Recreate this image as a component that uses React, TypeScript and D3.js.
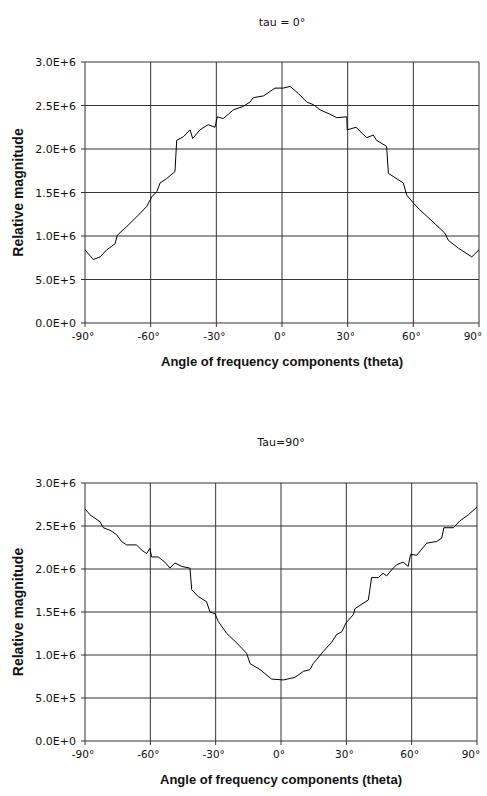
import { useEffect, useRef } from "react";
import * as d3 from "d3";

// tau = 0 curve (angle in degrees, magnitude)
const tau0Angles = [-90, -86.2, -83.1, -80.1, -76.3, -75.2, -70.9, -66.4, -61.8, -59.5, -57.2, -55.7, -52.7, -48.9, -48.1, -45.1, -42, -40.8, -37.5, -33.7, -30.6, -29.6, -26.8, -22.2, -17.7, -14.6, -13.1, -8.5, -3.2, 0.6, 3.7, 7.4, 11.3, 14.3, 17.4, 21.9, 25, 29.6, 29.8, 33.8, 38.7, 41.7, 43.2, 47.8, 48.6, 55.4, 57, 60, 63, 69.1, 74.5, 76, 80.6, 86.7, 90];
const tau0Values = [0.84e6, 0.73e6, 0.76e6, 0.84e6, 0.91e6, 1.01e6, 1.11e6, 1.22e6, 1.34e6, 1.45e6, 1.51e6, 1.61e6, 1.66e6, 1.74e6, 2.1e6, 2.14e6, 2.22e6, 2.12e6, 2.22e6, 2.28e6, 2.25e6, 2.37e6, 2.35e6, 2.45e6, 2.49e6, 2.54e6, 2.59e6, 2.61e6, 2.7e6, 2.7e6, 2.72e6, 2.64e6, 2.54e6, 2.51e6, 2.45e6, 2.4e6, 2.36e6, 2.37e6, 2.22e6, 2.25e6, 2.13e6, 2.16e6, 2.1e6, 2.03e6, 1.72e6, 1.61e6, 1.47e6, 1.38e6, 1.3e6, 1.16e6, 1.03e6, 0.95e6, 0.86e6, 0.76e6, 0.84e6];

// tau = 90 curve
const tau90Angles = [-90, -87.7, -83.1, -81.6, -78.5, -75.5, -73.2, -70.9, -66.3, -64, -61.7, -60.2, -59.4, -56.4, -53.3, -51, -48.7, -45.6, -41.8, -41, -38, -34.2, -32.6, -30.3, -28.8, -24.9, -20.3, -15.8, -14.2, -9.6, -4.3, 1.1, 6.4, 10.3, 13.3, 14.8, 19.4, 23.3, 25.6, 27.9, 29.8, 33.2, 34, 40.1, 41.6, 44.7, 46.9, 48.5, 50.8, 53.1, 56.1, 58.4, 59.5, 62.3, 66.9, 71.5, 73.8, 74.8, 79.1, 82.2, 86, 89.1, 90];
const tau90Values = [2.7e6, 2.63e6, 2.55e6, 2.48e6, 2.45e6, 2.4e6, 2.32e6, 2.28e6, 2.28e6, 2.22e6, 2.18e6, 2.24e6, 2.14e6, 2.14e6, 2.08e6, 2.01e6, 2.07e6, 2.03e6, 2.01e6, 1.76e6, 1.68e6, 1.62e6, 1.5e6, 1.48e6, 1.39e6, 1.25e6, 1.14e6, 1.02e6, 0.9e6, 0.83e6, 0.72e6, 0.71e6, 0.74e6, 0.81e6, 0.83e6, 0.9e6, 1.04e6, 1.15e6, 1.24e6, 1.27e6, 1.37e6, 1.47e6, 1.54e6, 1.64e6, 1.9e6, 1.9e6, 1.95e6, 1.92e6, 1.99e6, 2.05e6, 2.08e6, 2.03e6, 2.17e6, 2.16e6, 2.3e6, 2.32e6, 2.36e6, 2.48e6, 2.48e6, 2.56e6, 2.63e6, 2.7e6, 2.72e6];

const xTicks = [-90, -60, -30, 0, 30, 60, 90];
const yTicks = [0, 0.5e6, 1e6, 1.5e6, 2e6, 2.5e6, 3e6];

const W = 487;
const H = 796;

interface PanelSpec {
  title: string;
  angles: number[];
  values: number[];
  left: number;
  right: number;
  top: number;
  bottom: number;
  titleY: number;
}

const panels: PanelSpec[] = [
  { title: "tau = 0°", angles: tau0Angles, values: tau0Values, left: 85, right: 479, top: 62, bottom: 323, titleY: 26 },
  { title: "Tau=90°", angles: tau90Angles, values: tau90Values, left: 85, right: 477, top: 483, bottom: 741, titleY: 446 },
];

export default function App() {
  const svgRef = useRef<SVGSVGElement>(null);

  useEffect(() => {
    if (!svgRef.current) return;
    const svg = d3.select(svgRef.current);
    svg.selectAll("*").remove();

    const yFmt = (v: number) => d3.format(".1e")(v).toUpperCase();

    panels.forEach((p) => {
      const g = svg.append("g");
      const x = d3.scaleLinear().domain([-90, 90]).range([p.left, p.right]);
      const y = d3.scaleLinear().domain([0, 3e6]).range([p.bottom, p.top]);

      // grid
      g.selectAll(".hgrid")
        .data(yTicks)
        .join("line")
        .attr("x1", p.left - 4)
        .attr("x2", p.right)
        .attr("y1", (d) => y(d))
        .attr("y2", (d) => y(d))
        .attr("stroke", "#333")
        .attr("stroke-width", 1);

      g.selectAll(".vgrid")
        .data(xTicks)
        .join("line")
        .attr("x1", (d) => x(d))
        .attr("x2", (d) => x(d))
        .attr("y1", p.top)
        .attr("y2", p.bottom + 4)
        .attr("stroke", "#333")
        .attr("stroke-width", 1);

      // tick labels
      g.selectAll(".ylab")
        .data(yTicks)
        .join("text")
        .attr("x", p.left - 9)
        .attr("y", (d) => y(d) + 4)
        .attr("text-anchor", "end")
        .attr("font-family", "DejaVu Sans")
        .attr("font-size", 11)
        .attr("fill", "#111")
        .text(yFmt);

      // labels sit a little left of the gridline (the degree sign hangs right)
      g.selectAll(".xlab")
        .data(xTicks)
        .join("text")
        .attr("x", (d) => x(d) - (d === 90 ? 6 : 2))
        .attr("y", p.bottom + 17)
        .attr("text-anchor", "middle")
        .attr("font-family", "DejaVu Sans")
        .attr("font-size", 10.5)
        .attr("fill", "#111")
        .text((d) => `${d}°`);

      // axis titles
      g.append("text")
        .attr("x", (p.left + p.right) / 2)
        .attr("y", p.bottom + 43)
        .attr("text-anchor", "middle")
        .attr("font-family", "Liberation Sans")
        .attr("font-weight", "bold")
        .attr("font-size", 13)
        .attr("fill", "#111")
        .text("Angle of frequency components (theta)");

      g.append("text")
        .attr("transform", `translate(23,${(p.top + p.bottom) / 2}) rotate(-90)`)
        .attr("text-anchor", "middle")
        .attr("font-family", "Liberation Sans")
        .attr("font-weight", "bold")
        .attr("font-size", 14)
        .attr("fill", "#111")
        .text("Relative magnitude");

      g.append("text")
        .attr("x", (p.left + p.right) / 2)
        .attr("y", p.titleY)
        .attr("text-anchor", "middle")
        .attr("font-family", "DejaVu Sans")
        .attr("font-size", 11)
        .attr("fill", "#111")
        .text(p.title);

      // curve
      const pts = p.angles.map((a, i) => [a, p.values[i]] as [number, number]);
      const line = d3
        .line<[number, number]>()
        .x((d) => x(d[0]))
        .y((d) => y(d[1]));
      g.append("path")
        .attr("d", line(pts) || "")
        .attr("fill", "none")
        .attr("stroke", "#000")
        .attr("stroke-width", 1);
    });
  }, []);

  return (
    <svg
      ref={svgRef}
      width={W}
      height={H}
      viewBox={`0 0 ${W} ${H}`}
      style={{ position: "absolute", left: 0, top: 0, background: "#fff" }}
    />
  );
}
